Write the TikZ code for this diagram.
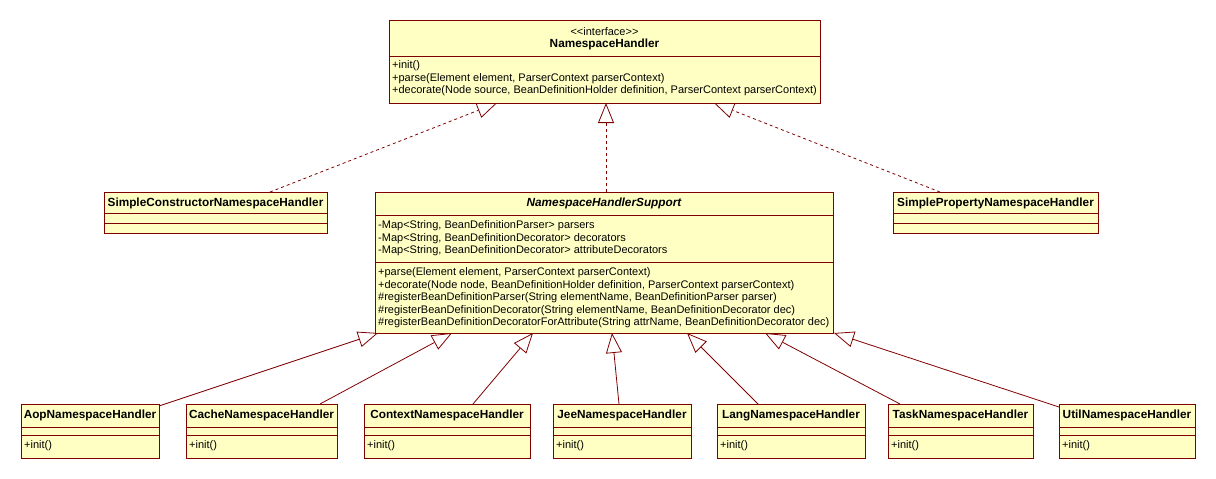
\documentclass[tikz,border=0pt]{standalone}
\usepackage{fontspec}
\setmainfont{Liberation Sans}
\usetikzlibrary{arrows.meta,calc}
\definecolor{umlfill}{RGB}{255,255,196}
\definecolor{umlline}{RGB}{128,0,0}
\pgfdeclarelayer{background}
\pgfsetlayers{background,main}
\newcommand{\umlbox}[5]{\node[cls, minimum width=#4pt, minimum height=#5pt] (#1) at (#2,#3) {};}
\newcommand{\hdiv}[2]{\draw[divider] ([yshift=-#2pt]#1.north west) -- ([yshift=-#2pt]#1.north east);}
\begin{document}
\begin{tikzpicture}[x=1pt,y=-1pt,
  cls/.style={draw=umlline, fill=umlfill, line width=0.8pt, anchor=north west, inner sep=0pt, outer sep=0pt},
  divider/.style={draw=umlline, line width=0.8pt},
  txt/.style={anchor=west, inner sep=0pt, font=\fontsize{11}{12}\selectfont},
  ttl/.style={anchor=center, inner sep=0pt, font=\fontsize{11.8}{13}\selectfont\bfseries},
  real/.style={draw=umlline, line width=0.8pt, dash pattern=on 3pt off 3pt, -{Triangle[length=20pt,width=16pt,fill=white]}},
  gen/.style={draw=umlline, line width=0.8pt, -{Triangle[length=20pt,width=16pt,fill=white]}}]

\useasboundingbox (0,0) rectangle (1216,479);

% ---------- boxes ----------
\umlbox{nh}{389}{20}{431}{83}
\hdiv{nh}{36}
\node[txt, anchor=center] (nh-st) at ([yshift=-12pt]nh.north) {{<}{<}interface{>}{>}};
\node[ttl] (nh-n) at ([yshift=-24.5pt]nh.north) {NamespaceHandler};
\node[txt] (nh-o1) at ([xshift=3pt,yshift=-46pt]nh.north west) {+init()};
\node[txt] (nh-o2) at ([xshift=3pt,yshift=-58.5pt]nh.north west) {+parse(Element element, ParserContext parserContext)};
\node[txt] (nh-o3) at ([xshift=3pt,yshift=-71pt]nh.north west) {+decorate(Node source, BeanDefinitionHolder definition, ParserContext parserContext)};

\umlbox{sup}{375}{192}{458}{141}
\hdiv{sup}{23}
\hdiv{sup}{70}
\node[ttl, font=\fontsize{11.8}{13}\selectfont\bfseries\itshape] (sup-n) at ([yshift=-11.5pt]sup.north) {NamespaceHandlerSupport};
\node[txt] (sup-a1) at ([xshift=3pt,yshift=-34pt]sup.north west) {-Map<String, BeanDefinitionParser> parsers};
\node[txt] (sup-a2) at ([xshift=3pt,yshift=-46.5pt]sup.north west) {-Map<String, BeanDefinitionDecorator> decorators};
\node[txt] (sup-a3) at ([xshift=3pt,yshift=-59pt]sup.north west) {-Map<String, BeanDefinitionDecorator> attributeDecorators};
\node[txt] (sup-o1) at ([xshift=3pt,yshift=-81pt]sup.north west) {+parse(Element element, ParserContext parserContext)};
\node[txt] (sup-o2) at ([xshift=3pt,yshift=-93.5pt]sup.north west) {+decorate(Node node, BeanDefinitionHolder definition, ParserContext parserContext)};
\node[txt] (sup-o3) at ([xshift=3pt,yshift=-106pt]sup.north west) {\#registerBeanDefinitionParser(String elementName, BeanDefinitionParser parser)};
\node[txt] (sup-o4) at ([xshift=3pt,yshift=-118.5pt]sup.north west) {\#registerBeanDefinitionDecorator(String elementName, BeanDefinitionDecorator dec)};
\node[txt] (sup-o5) at ([xshift=3pt,yshift=-131pt]sup.north west) {\#registerBeanDefinitionDecoratorForAttribute(String attrName, BeanDefinitionDecorator dec)};

\umlbox{sc}{104}{192}{223}{41}
\hdiv{sc}{21}
\hdiv{sc}{31}
\node[ttl] (sc-n) at ([yshift=-11pt]sc.north) {SimpleConstructorNamespaceHandler};

\umlbox{sp}{893}{192}{205}{41}
\hdiv{sp}{21}
\hdiv{sp}{31}
\node[ttl] (sp-n) at ([yshift=-11pt]sp.north) {SimplePropertyNamespaceHandler};

\umlbox{aop}{21}{404}{138}{54}
\umlbox{cache}{186}{404}{151}{54}
\umlbox{ctx}{364}{404}{166}{54}
\umlbox{jee}{553}{404}{138}{54}
\umlbox{lang}{717}{404}{148}{54}
\umlbox{task}{888}{404}{145}{54}
\umlbox{util}{1059}{404}{136}{54}
\foreach \b/\t in {aop/AopNamespaceHandler, cache/CacheNamespaceHandler, ctx/ContextNamespaceHandler, jee/JeeNamespaceHandler, lang/LangNamespaceHandler, task/TaskNamespaceHandler, util/UtilNamespaceHandler}{
  \hdiv{\b}{23}
  \hdiv{\b}{31}
  \node[ttl] (\b-n) at ([yshift=-11.5pt]\b.north) {\t};
  \node[txt] (\b-o1) at ([xshift=3pt,yshift=-42pt]\b.north west) {+init()};
}

% ---------- connectors ----------
\begin{pgfonlayer}{background}
\fill[white] (0,0) rectangle (1216,479);
\draw[real] ([xshift=166pt]sc.north west) -- ([xshift=108pt]nh.south west);
\draw[real] ([xshift=231pt]sup.north west) -- ([xshift=217pt]nh.south west);
\draw[real] ([xshift=47pt]sp.north west) -- ([xshift=325pt]nh.south west);

\draw[gen] ([yshift=-2pt]aop.north east) -- ([xshift=3pt]sup.south west);
\draw[gen] ([xshift=134pt]cache.north west) -- ([xshift=77pt]sup.south west);
\draw[gen] ([xshift=109pt]ctx.north west) -- ([xshift=158pt]sup.south west);
\draw[gen] ([xshift=66pt]jee.north west) -- ([xshift=237pt]sup.south west);
\draw[gen] ([xshift=41pt]lang.north west) -- ([xshift=312pt]sup.south west);
\draw[gen] ([xshift=12pt]task.north west) -- ([xshift=390pt]sup.south west);
\draw[gen] ([yshift=-3pt]util.north west) -- ([xshift=1pt]sup.south east);
\end{pgfonlayer}
\end{tikzpicture}
\end{document}
